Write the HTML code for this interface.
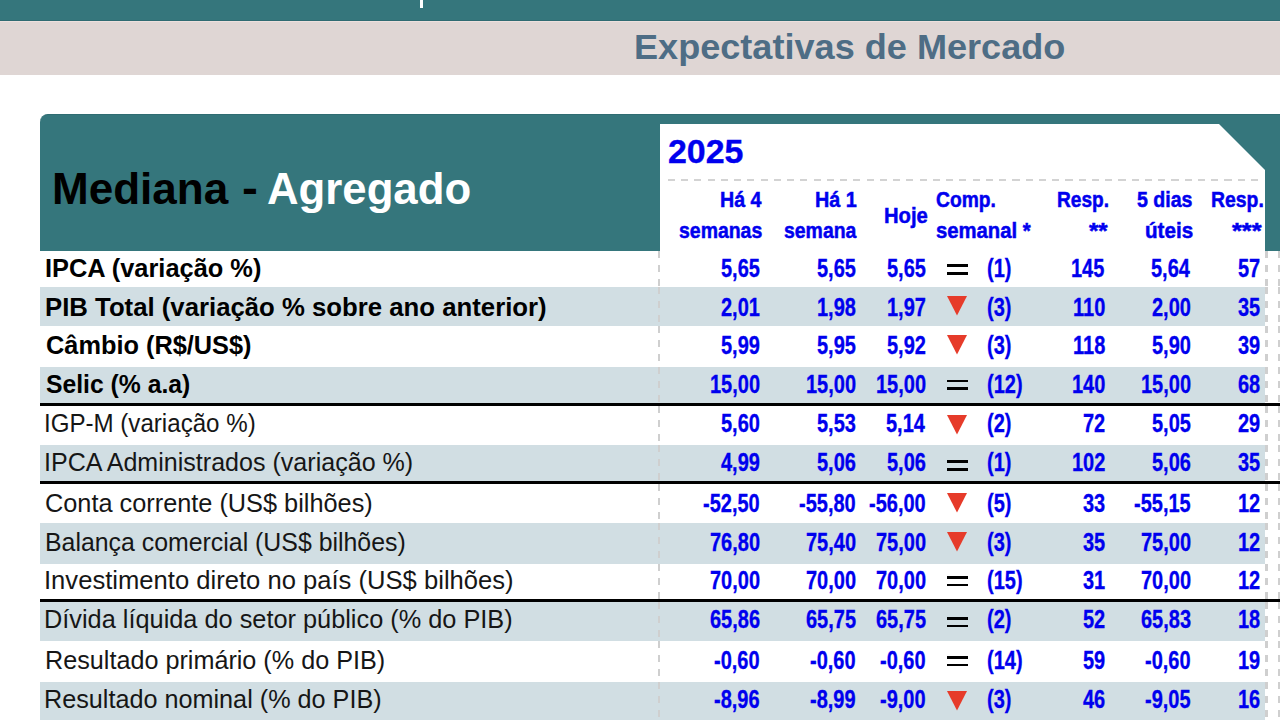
<!DOCTYPE html><html><head><meta charset="utf-8"><style>
html,body{margin:0;padding:0;width:1280px;height:720px;overflow:hidden;background:#fff;position:relative}
.t{position:absolute;white-space:nowrap;font-family:"Liberation Sans",sans-serif;line-height:1;transform-origin:0 0}
.b{position:absolute}
</style></head><body>
<div class="b" style="left:0;top:0;width:1280px;height:20px;background:#35767c"></div>
<div class="b" style="left:0;top:19.5px;width:1280px;height:1px;background:#2f6b72"></div>
<div class="b" style="left:0;top:20.5px;width:1280px;height:1.2px;background:#ede0dd"></div>
<div class="b" style="left:420px;top:0;width:3px;height:7.5px;background:#fff"></div>
<div class="b" style="left:0;top:21.7px;width:1280px;height:53px;background:#dfd6d4"></div>
<div class="b" style="left:40px;top:113.6px;width:1260px;height:137.4px;background:#35767c;border-top:0.8px solid #2f6c72;box-sizing:border-box;border-top-left-radius:8px"></div>
<svg class="b" style="left:660px;top:124px" width="605" height="127"><polygon points="0,0 559,0 605,46 605,127 0,127" fill="#fff"/></svg>
<div class="b" style="left:668px;top:178.5px;width:596px;height:2.5px;background:repeating-linear-gradient(90deg,#d3d3d3 0 7px,transparent 7px 13.25px)"></div>

<div class="b" style="left:40px;top:251px;width:1225.3px;height:36px;background:#fff"></div>
<div class="b" style="left:40px;top:287px;width:1225.3px;height:39px;background:#d1dee3"></div>
<div class="b" style="left:40px;top:326px;width:1225.3px;height:41px;background:#fff"></div>
<div class="b" style="left:40px;top:367px;width:1225.3px;height:36px;background:#d1dee3"></div>
<div class="b" style="left:40px;top:406px;width:1225.3px;height:39px;background:#fff"></div>
<div class="b" style="left:40px;top:445px;width:1225.3px;height:35.5px;background:#d1dee3"></div>
<div class="b" style="left:40px;top:483.5px;width:1225.3px;height:39.0px;background:#fff"></div>
<div class="b" style="left:40px;top:522.5px;width:1225.3px;height:41.5px;background:#d1dee3"></div>
<div class="b" style="left:40px;top:564px;width:1225.3px;height:35px;background:#fff"></div>
<div class="b" style="left:40px;top:602px;width:1225.3px;height:38.5px;background:#d1dee3"></div>
<div class="b" style="left:40px;top:640.5px;width:1225.3px;height:41.5px;background:#fff"></div>
<div class="b" style="left:40px;top:682px;width:1225.3px;height:38px;background:#d1dee3"></div>
<div class="b" style="left:40px;top:403px;width:1240px;height:3px;background:#000"></div>
<div class="b" style="left:40px;top:480.5px;width:1240px;height:3.0px;background:#000"></div>
<div class="b" style="left:40px;top:599px;width:1240px;height:3px;background:#000"></div>
<div class="b" style="left:657.6px;top:251px;width:2.5px;height:36px;background:repeating-linear-gradient(180deg,#cfcfcf 0 7.3px,transparent 7.3px 13.8px)"></div>
<div class="b" style="left:657.6px;top:287px;width:2.5px;height:39px;background:repeating-linear-gradient(180deg,#cfcfcf 0 7.3px,transparent 7.3px 13.8px)"></div>
<div class="b" style="left:657.6px;top:326px;width:2.5px;height:41px;background:repeating-linear-gradient(180deg,#cfcfcf 0 7.3px,transparent 7.3px 13.8px)"></div>
<div class="b" style="left:657.6px;top:367px;width:2.5px;height:36px;background:repeating-linear-gradient(180deg,#cfcfcf 0 7.3px,transparent 7.3px 13.8px)"></div>
<div class="b" style="left:657.6px;top:406px;width:2.5px;height:39px;background:repeating-linear-gradient(180deg,#cfcfcf 0 7.3px,transparent 7.3px 13.8px)"></div>
<div class="b" style="left:657.6px;top:445px;width:2.5px;height:35.5px;background:repeating-linear-gradient(180deg,#cfcfcf 0 7.3px,transparent 7.3px 13.8px)"></div>
<div class="b" style="left:657.6px;top:483.5px;width:2.5px;height:39.0px;background:repeating-linear-gradient(180deg,#cfcfcf 0 7.3px,transparent 7.3px 13.8px)"></div>
<div class="b" style="left:657.6px;top:522.5px;width:2.5px;height:41.5px;background:repeating-linear-gradient(180deg,#cfcfcf 0 7.3px,transparent 7.3px 13.8px)"></div>
<div class="b" style="left:657.6px;top:564px;width:2.5px;height:35px;background:repeating-linear-gradient(180deg,#cfcfcf 0 7.3px,transparent 7.3px 13.8px)"></div>
<div class="b" style="left:657.6px;top:602px;width:2.5px;height:38.5px;background:repeating-linear-gradient(180deg,#cfcfcf 0 7.3px,transparent 7.3px 13.8px)"></div>
<div class="b" style="left:657.6px;top:640.5px;width:2.5px;height:41.5px;background:repeating-linear-gradient(180deg,#cfcfcf 0 7.3px,transparent 7.3px 13.8px)"></div>
<div class="b" style="left:657.6px;top:682px;width:2.5px;height:38px;background:repeating-linear-gradient(180deg,#cfcfcf 0 7.3px,transparent 7.3px 13.8px)"></div>
<div class="b" style="left:1265.2px;top:251px;width:2.5px;height:36px;background:repeating-linear-gradient(180deg,#cfcfcf 0 7.3px,transparent 7.3px 13.8px)"></div>
<div class="b" style="left:1265.2px;top:287px;width:2.5px;height:39px;background:repeating-linear-gradient(180deg,#cfcfcf 0 7.3px,transparent 7.3px 13.8px)"></div>
<div class="b" style="left:1265.2px;top:326px;width:2.5px;height:41px;background:repeating-linear-gradient(180deg,#cfcfcf 0 7.3px,transparent 7.3px 13.8px)"></div>
<div class="b" style="left:1265.2px;top:367px;width:2.5px;height:36px;background:repeating-linear-gradient(180deg,#cfcfcf 0 7.3px,transparent 7.3px 13.8px)"></div>
<div class="b" style="left:1265.2px;top:406px;width:2.5px;height:39px;background:repeating-linear-gradient(180deg,#cfcfcf 0 7.3px,transparent 7.3px 13.8px)"></div>
<div class="b" style="left:1265.2px;top:445px;width:2.5px;height:35.5px;background:repeating-linear-gradient(180deg,#cfcfcf 0 7.3px,transparent 7.3px 13.8px)"></div>
<div class="b" style="left:1265.2px;top:483.5px;width:2.5px;height:39.0px;background:repeating-linear-gradient(180deg,#cfcfcf 0 7.3px,transparent 7.3px 13.8px)"></div>
<div class="b" style="left:1265.2px;top:522.5px;width:2.5px;height:41.5px;background:repeating-linear-gradient(180deg,#cfcfcf 0 7.3px,transparent 7.3px 13.8px)"></div>
<div class="b" style="left:1265.2px;top:564px;width:2.5px;height:35px;background:repeating-linear-gradient(180deg,#cfcfcf 0 7.3px,transparent 7.3px 13.8px)"></div>
<div class="b" style="left:1265.2px;top:602px;width:2.5px;height:38.5px;background:repeating-linear-gradient(180deg,#cfcfcf 0 7.3px,transparent 7.3px 13.8px)"></div>
<div class="b" style="left:1265.2px;top:640.5px;width:2.5px;height:41.5px;background:repeating-linear-gradient(180deg,#cfcfcf 0 7.3px,transparent 7.3px 13.8px)"></div>
<div class="b" style="left:1265.2px;top:682px;width:2.5px;height:38px;background:repeating-linear-gradient(180deg,#cfcfcf 0 7.3px,transparent 7.3px 13.8px)"></div>
<div class="b" style="left:1277.9px;top:251px;width:2.5px;height:36px;background:repeating-linear-gradient(180deg,#cfcfcf 0 7.3px,transparent 7.3px 13.8px)"></div>
<div class="b" style="left:1277.9px;top:287px;width:2.5px;height:39px;background:repeating-linear-gradient(180deg,#cfcfcf 0 7.3px,transparent 7.3px 13.8px)"></div>
<div class="b" style="left:1277.9px;top:326px;width:2.5px;height:41px;background:repeating-linear-gradient(180deg,#cfcfcf 0 7.3px,transparent 7.3px 13.8px)"></div>
<div class="b" style="left:1277.9px;top:367px;width:2.5px;height:36px;background:repeating-linear-gradient(180deg,#cfcfcf 0 7.3px,transparent 7.3px 13.8px)"></div>
<div class="b" style="left:1277.9px;top:406px;width:2.5px;height:39px;background:repeating-linear-gradient(180deg,#cfcfcf 0 7.3px,transparent 7.3px 13.8px)"></div>
<div class="b" style="left:1277.9px;top:445px;width:2.5px;height:35.5px;background:repeating-linear-gradient(180deg,#cfcfcf 0 7.3px,transparent 7.3px 13.8px)"></div>
<div class="b" style="left:1277.9px;top:483.5px;width:2.5px;height:39.0px;background:repeating-linear-gradient(180deg,#cfcfcf 0 7.3px,transparent 7.3px 13.8px)"></div>
<div class="b" style="left:1277.9px;top:522.5px;width:2.5px;height:41.5px;background:repeating-linear-gradient(180deg,#cfcfcf 0 7.3px,transparent 7.3px 13.8px)"></div>
<div class="b" style="left:1277.9px;top:564px;width:2.5px;height:35px;background:repeating-linear-gradient(180deg,#cfcfcf 0 7.3px,transparent 7.3px 13.8px)"></div>
<div class="b" style="left:1277.9px;top:602px;width:2.5px;height:38.5px;background:repeating-linear-gradient(180deg,#cfcfcf 0 7.3px,transparent 7.3px 13.8px)"></div>
<div class="b" style="left:1277.9px;top:640.5px;width:2.5px;height:41.5px;background:repeating-linear-gradient(180deg,#cfcfcf 0 7.3px,transparent 7.3px 13.8px)"></div>
<div class="b" style="left:1277.9px;top:682px;width:2.5px;height:38px;background:repeating-linear-gradient(180deg,#cfcfcf 0 7.3px,transparent 7.3px 13.8px)"></div>
<div class="b" style="left:947px;top:264px;width:21px;height:2.8px;background:#000"></div>
<div class="b" style="left:947px;top:271.8px;width:21px;height:2.8px;background:#000"></div>
<svg class="b" style="left:947px;top:296.1px" width="20" height="20"><polygon points="0,0 20,0 10,19.6" fill="#e63b2a"/></svg>
<svg class="b" style="left:947px;top:334.6px" width="20" height="20"><polygon points="0,0 20,0 10,19.6" fill="#e63b2a"/></svg>
<div class="b" style="left:947px;top:379.6px;width:21px;height:2.8px;background:#000"></div>
<div class="b" style="left:947px;top:387.40000000000003px;width:21px;height:2.8px;background:#000"></div>
<svg class="b" style="left:947px;top:415px" width="20" height="20"><polygon points="0,0 20,0 10,19.6" fill="#e63b2a"/></svg>
<div class="b" style="left:947px;top:460.2px;width:21px;height:2.8px;background:#000"></div>
<div class="b" style="left:947px;top:468.0px;width:21px;height:2.8px;background:#000"></div>
<svg class="b" style="left:947px;top:492.9px" width="20" height="20"><polygon points="0,0 20,0 10,19.6" fill="#e63b2a"/></svg>
<svg class="b" style="left:947px;top:531.7px" width="20" height="20"><polygon points="0,0 20,0 10,19.6" fill="#e63b2a"/></svg>
<div class="b" style="left:947px;top:575.8px;width:21px;height:2.8px;background:#000"></div>
<div class="b" style="left:947px;top:583.5999999999999px;width:21px;height:2.8px;background:#000"></div>
<div class="b" style="left:947px;top:616.9px;width:21px;height:2.8px;background:#000"></div>
<div class="b" style="left:947px;top:624.6999999999999px;width:21px;height:2.8px;background:#000"></div>
<div class="b" style="left:947px;top:655.9px;width:21px;height:2.8px;background:#000"></div>
<div class="b" style="left:947px;top:663.6999999999999px;width:21px;height:2.8px;background:#000"></div>
<svg class="b" style="left:947px;top:691px" width="20" height="20"><polygon points="0,0 20,0 10,19.6" fill="#e63b2a"/></svg>
<div class="t" id="t0" style="left:634.37px;top:30.00px;font-size:35.5px;font-weight:700;color:#4e6d85;transform:scaleX(1.0168);">Expectativas de Mercado</div>
<div class="t" id="t1" style="left:52.06px;top:166.20px;font-size:45px;font-weight:700;color:#000;transform:scaleX(0.9786);">Mediana</div>
<div class="t" id="t2" style="left:241.72px;top:164.60px;font-size:45px;font-weight:700;color:#000;transform:scaleX(1.0604);">-</div>
<div class="t" id="t3" style="left:266.93px;top:166.20px;font-size:45px;font-weight:700;color:#fff;transform:scaleX(0.9719);">Agregado</div>
<div class="t" id="t4" style="left:667.97px;top:135.00px;font-size:33px;font-weight:700;color:#0000ee;transform:scaleX(1.0269);-webkit-text-stroke:0.35px #0000ee;">2025</div>
<div class="t" id="t5" style="left:719.89px;top:188.70px;font-size:22px;font-weight:700;color:#0000ee;transform:scaleX(0.8929);-webkit-text-stroke:0.5px #0000ee;">Há 4</div>
<div class="t" id="t6" style="left:678.84px;top:220.10px;font-size:22px;font-weight:700;color:#0000ee;transform:scaleX(0.8840);-webkit-text-stroke:0.5px #0000ee;">semanas</div>
<div class="t" id="t7" style="left:815.35px;top:188.70px;font-size:22px;font-weight:700;color:#0000ee;transform:scaleX(0.9008);-webkit-text-stroke:0.5px #0000ee;">Há 1</div>
<div class="t" id="t8" style="left:784.25px;top:220.10px;font-size:22px;font-weight:700;color:#0000ee;transform:scaleX(0.8832);-webkit-text-stroke:0.5px #0000ee;">semana</div>
<div class="t" id="t9" style="left:884.14px;top:204.50px;font-size:22px;font-weight:700;color:#0000ee;transform:scaleX(0.9180);-webkit-text-stroke:0.5px #0000ee;">Hoje</div>
<div class="t" id="t10" style="left:935.72px;top:188.60px;font-size:22px;font-weight:700;color:#0000ee;transform:scaleX(0.8740);-webkit-text-stroke:0.5px #0000ee;">Comp.</div>
<div class="t" id="t11" style="left:935.60px;top:219.90px;font-size:22px;font-weight:700;color:#0000ee;transform:scaleX(0.9218);-webkit-text-stroke:0.5px #0000ee;">semanal *</div>
<div class="t" id="t12" style="left:1056.57px;top:188.70px;font-size:22px;font-weight:700;color:#0000ee;transform:scaleX(0.8673);-webkit-text-stroke:0.5px #0000ee;">Resp.</div>
<div class="t" id="t13" style="left:1088.70px;top:220.10px;font-size:22px;font-weight:700;color:#0000ee;transform:scaleX(1.0876);-webkit-text-stroke:0.5px #0000ee;">**</div>
<div class="t" id="t14" style="left:1137.28px;top:188.70px;font-size:22px;font-weight:700;color:#0000ee;transform:scaleX(0.8898);-webkit-text-stroke:0.5px #0000ee;">5 dias</div>
<div class="t" id="t15" style="left:1144.86px;top:220.10px;font-size:22px;font-weight:700;color:#0000ee;transform:scaleX(0.9379);-webkit-text-stroke:0.5px #0000ee;">úteis</div>
<div class="t" id="t16" style="left:1210.72px;top:188.70px;font-size:22px;font-weight:700;color:#0000ee;transform:scaleX(0.8807);-webkit-text-stroke:0.5px #0000ee;">Resp.</div>
<div class="t" id="t17" style="left:1232.44px;top:220.10px;font-size:22px;font-weight:700;color:#0000ee;transform:scaleX(1.1510);-webkit-text-stroke:0.5px #0000ee;">***</div>
<div class="t" id="t18" style="left:45.32px;top:254.70px;font-size:26px;font-weight:700;color:#000;transform:scaleX(0.9766);">IPCA (variação %)</div>
<div class="t" id="t19" style="left:720.98px;top:254.70px;font-size:26.3px;font-weight:700;color:#0000ee;transform:scaleX(0.7600);-webkit-text-stroke:0.35px #0000ee;">5,65</div>
<div class="t" id="t20" style="left:817.08px;top:254.70px;font-size:26.3px;font-weight:700;color:#0000ee;transform:scaleX(0.7600);-webkit-text-stroke:0.35px #0000ee;">5,65</div>
<div class="t" id="t21" style="left:887.46px;top:254.70px;font-size:26.3px;font-weight:700;color:#0000ee;transform:scaleX(0.7600);-webkit-text-stroke:0.35px #0000ee;">5,65</div>
<div class="t" id="t22" style="left:987.12px;top:254.70px;font-size:26.3px;font-weight:700;color:#0000ee;transform:scaleX(0.7600);-webkit-text-stroke:0.35px #0000ee;">(1)</div>
<div class="t" id="t23" style="left:1070.93px;top:254.70px;font-size:26.3px;font-weight:700;color:#0000ee;transform:scaleX(0.7600);-webkit-text-stroke:0.35px #0000ee;">145</div>
<div class="t" id="t24" style="left:1151.32px;top:254.70px;font-size:26.3px;font-weight:700;color:#0000ee;transform:scaleX(0.7600);-webkit-text-stroke:0.35px #0000ee;">5,64</div>
<div class="t" id="t25" style="left:1237.94px;top:254.70px;font-size:26.3px;font-weight:700;color:#0000ee;transform:scaleX(0.7600);-webkit-text-stroke:0.35px #0000ee;">57</div>
<div class="t" id="t26" style="left:45.31px;top:293.80px;font-size:26px;font-weight:700;color:#000;transform:scaleX(0.9901);">PIB Total (variação % sobre ano anterior)</div>
<div class="t" id="t27" style="left:720.98px;top:293.80px;font-size:26.3px;font-weight:700;color:#0000ee;transform:scaleX(0.7600);-webkit-text-stroke:0.35px #0000ee;">2,01</div>
<div class="t" id="t28" style="left:817.08px;top:293.80px;font-size:26.3px;font-weight:700;color:#0000ee;transform:scaleX(0.7600);-webkit-text-stroke:0.35px #0000ee;">1,98</div>
<div class="t" id="t29" style="left:887.46px;top:293.80px;font-size:26.3px;font-weight:700;color:#0000ee;transform:scaleX(0.7600);-webkit-text-stroke:0.35px #0000ee;">1,97</div>
<div class="t" id="t30" style="left:987.12px;top:293.80px;font-size:26.3px;font-weight:700;color:#0000ee;transform:scaleX(0.7600);-webkit-text-stroke:0.35px #0000ee;">(3)</div>
<div class="t" id="t31" style="left:1073.23px;top:293.80px;font-size:26.3px;font-weight:700;color:#0000ee;transform:scaleX(0.7600);-webkit-text-stroke:0.35px #0000ee;">110</div>
<div class="t" id="t32" style="left:1152.08px;top:293.80px;font-size:26.3px;font-weight:700;color:#0000ee;transform:scaleX(0.7600);-webkit-text-stroke:0.35px #0000ee;">2,00</div>
<div class="t" id="t33" style="left:1237.94px;top:293.80px;font-size:26.3px;font-weight:700;color:#0000ee;transform:scaleX(0.7600);-webkit-text-stroke:0.35px #0000ee;">35</div>
<div class="t" id="t34" style="left:46.10px;top:332.40px;font-size:26px;font-weight:700;color:#000;transform:scaleX(0.9745);">Câmbio (R$/US$)</div>
<div class="t" id="t35" style="left:720.98px;top:332.40px;font-size:26.3px;font-weight:700;color:#0000ee;transform:scaleX(0.7600);-webkit-text-stroke:0.35px #0000ee;">5,99</div>
<div class="t" id="t36" style="left:817.08px;top:332.40px;font-size:26.3px;font-weight:700;color:#0000ee;transform:scaleX(0.7600);-webkit-text-stroke:0.35px #0000ee;">5,95</div>
<div class="t" id="t37" style="left:887.46px;top:332.40px;font-size:26.3px;font-weight:700;color:#0000ee;transform:scaleX(0.7600);-webkit-text-stroke:0.35px #0000ee;">5,92</div>
<div class="t" id="t38" style="left:987.12px;top:332.40px;font-size:26.3px;font-weight:700;color:#0000ee;transform:scaleX(0.7600);-webkit-text-stroke:0.35px #0000ee;">(3)</div>
<div class="t" id="t39" style="left:1073.23px;top:332.40px;font-size:26.3px;font-weight:700;color:#0000ee;transform:scaleX(0.7600);-webkit-text-stroke:0.35px #0000ee;">118</div>
<div class="t" id="t40" style="left:1152.08px;top:332.40px;font-size:26.3px;font-weight:700;color:#0000ee;transform:scaleX(0.7600);-webkit-text-stroke:0.35px #0000ee;">5,90</div>
<div class="t" id="t41" style="left:1237.94px;top:332.40px;font-size:26.3px;font-weight:700;color:#0000ee;transform:scaleX(0.7600);-webkit-text-stroke:0.35px #0000ee;">39</div>
<div class="t" id="t42" style="left:46.30px;top:371.10px;font-size:26px;font-weight:700;color:#000;transform:scaleX(0.9512);">Selic (% a.a)</div>
<div class="t" id="t43" style="left:710.46px;top:371.10px;font-size:26.3px;font-weight:700;color:#0000ee;transform:scaleX(0.7600);-webkit-text-stroke:0.35px #0000ee;">15,00</div>
<div class="t" id="t44" style="left:805.96px;top:371.10px;font-size:26.3px;font-weight:700;color:#0000ee;transform:scaleX(0.7600);-webkit-text-stroke:0.35px #0000ee;">15,00</div>
<div class="t" id="t45" style="left:876.34px;top:371.10px;font-size:26.3px;font-weight:700;color:#0000ee;transform:scaleX(0.7600);-webkit-text-stroke:0.35px #0000ee;">15,00</div>
<div class="t" id="t46" style="left:987.12px;top:371.10px;font-size:26.3px;font-weight:700;color:#0000ee;transform:scaleX(0.7600);-webkit-text-stroke:0.35px #0000ee;">(12)</div>
<div class="t" id="t47" style="left:1072.13px;top:371.10px;font-size:26.3px;font-weight:700;color:#0000ee;transform:scaleX(0.7600);-webkit-text-stroke:0.35px #0000ee;">140</div>
<div class="t" id="t48" style="left:1140.96px;top:371.10px;font-size:26.3px;font-weight:700;color:#0000ee;transform:scaleX(0.7600);-webkit-text-stroke:0.35px #0000ee;">15,00</div>
<div class="t" id="t49" style="left:1237.94px;top:371.10px;font-size:26.3px;font-weight:700;color:#0000ee;transform:scaleX(0.7600);-webkit-text-stroke:0.35px #0000ee;">68</div>
<div class="t" id="t50" style="left:44.45px;top:410.00px;font-size:26px;font-weight:400;color:#161616;transform:scaleX(0.9273);">IGP-M (variação %)</div>
<div class="t" id="t51" style="left:720.98px;top:410.00px;font-size:26.3px;font-weight:700;color:#0000ee;transform:scaleX(0.7600);-webkit-text-stroke:0.35px #0000ee;">5,60</div>
<div class="t" id="t52" style="left:817.08px;top:410.00px;font-size:26.3px;font-weight:700;color:#0000ee;transform:scaleX(0.7600);-webkit-text-stroke:0.35px #0000ee;">5,53</div>
<div class="t" id="t53" style="left:886.28px;top:410.00px;font-size:26.3px;font-weight:700;color:#0000ee;transform:scaleX(0.7600);-webkit-text-stroke:0.35px #0000ee;">5,14</div>
<div class="t" id="t54" style="left:987.12px;top:410.00px;font-size:26.3px;font-weight:700;color:#0000ee;transform:scaleX(0.7600);-webkit-text-stroke:0.35px #0000ee;">(2)</div>
<div class="t" id="t55" style="left:1083.24px;top:410.00px;font-size:26.3px;font-weight:700;color:#0000ee;transform:scaleX(0.7600);-webkit-text-stroke:0.35px #0000ee;">72</div>
<div class="t" id="t56" style="left:1152.08px;top:410.00px;font-size:26.3px;font-weight:700;color:#0000ee;transform:scaleX(0.7600);-webkit-text-stroke:0.35px #0000ee;">5,05</div>
<div class="t" id="t57" style="left:1237.94px;top:410.00px;font-size:26.3px;font-weight:700;color:#0000ee;transform:scaleX(0.7600);-webkit-text-stroke:0.35px #0000ee;">29</div>
<div class="t" id="t58" style="left:44.13px;top:449.00px;font-size:26px;font-weight:400;color:#161616;transform:scaleX(0.9641);">IPCA Administrados (variação %)</div>
<div class="t" id="t59" style="left:720.98px;top:449.00px;font-size:26.3px;font-weight:700;color:#0000ee;transform:scaleX(0.7600);-webkit-text-stroke:0.35px #0000ee;">4,99</div>
<div class="t" id="t60" style="left:817.08px;top:449.00px;font-size:26.3px;font-weight:700;color:#0000ee;transform:scaleX(0.7600);-webkit-text-stroke:0.35px #0000ee;">5,06</div>
<div class="t" id="t61" style="left:887.46px;top:449.00px;font-size:26.3px;font-weight:700;color:#0000ee;transform:scaleX(0.7600);-webkit-text-stroke:0.35px #0000ee;">5,06</div>
<div class="t" id="t62" style="left:987.12px;top:449.00px;font-size:26.3px;font-weight:700;color:#0000ee;transform:scaleX(0.7600);-webkit-text-stroke:0.35px #0000ee;">(1)</div>
<div class="t" id="t63" style="left:1072.13px;top:449.00px;font-size:26.3px;font-weight:700;color:#0000ee;transform:scaleX(0.7600);-webkit-text-stroke:0.35px #0000ee;">102</div>
<div class="t" id="t64" style="left:1152.08px;top:449.00px;font-size:26.3px;font-weight:700;color:#0000ee;transform:scaleX(0.7600);-webkit-text-stroke:0.35px #0000ee;">5,06</div>
<div class="t" id="t65" style="left:1237.94px;top:449.00px;font-size:26.3px;font-weight:700;color:#0000ee;transform:scaleX(0.7600);-webkit-text-stroke:0.35px #0000ee;">35</div>
<div class="t" id="t66" style="left:45.33px;top:490.30px;font-size:26px;font-weight:400;color:#161616;transform:scaleX(0.9733);">Conta corrente (US$ bilhões)</div>
<div class="t" id="t67" style="left:703.21px;top:490.30px;font-size:26.3px;font-weight:700;color:#0000ee;transform:scaleX(0.7600);-webkit-text-stroke:0.35px #0000ee;">-52,50</div>
<div class="t" id="t68" style="left:799.31px;top:490.30px;font-size:26.3px;font-weight:700;color:#0000ee;transform:scaleX(0.7600);-webkit-text-stroke:0.35px #0000ee;">-55,80</div>
<div class="t" id="t69" style="left:869.27px;top:490.30px;font-size:26.3px;font-weight:700;color:#0000ee;transform:scaleX(0.7600);-webkit-text-stroke:0.35px #0000ee;">-56,00</div>
<div class="t" id="t70" style="left:987.12px;top:490.30px;font-size:26.3px;font-weight:700;color:#0000ee;transform:scaleX(0.7600);-webkit-text-stroke:0.35px #0000ee;">(5)</div>
<div class="t" id="t71" style="left:1083.24px;top:490.30px;font-size:26.3px;font-weight:700;color:#0000ee;transform:scaleX(0.7600);-webkit-text-stroke:0.35px #0000ee;">33</div>
<div class="t" id="t72" style="left:1134.31px;top:490.30px;font-size:26.3px;font-weight:700;color:#0000ee;transform:scaleX(0.7600);-webkit-text-stroke:0.35px #0000ee;">-55,15</div>
<div class="t" id="t73" style="left:1237.94px;top:490.30px;font-size:26.3px;font-weight:700;color:#0000ee;transform:scaleX(0.7600);-webkit-text-stroke:0.35px #0000ee;">12</div>
<div class="t" id="t74" style="left:45.17px;top:528.60px;font-size:26px;font-weight:400;color:#161616;transform:scaleX(0.9564);">Balança comercial (US$ bilhões)</div>
<div class="t" id="t75" style="left:710.46px;top:528.60px;font-size:26.3px;font-weight:700;color:#0000ee;transform:scaleX(0.7600);-webkit-text-stroke:0.35px #0000ee;">76,80</div>
<div class="t" id="t76" style="left:805.96px;top:528.60px;font-size:26.3px;font-weight:700;color:#0000ee;transform:scaleX(0.7600);-webkit-text-stroke:0.35px #0000ee;">75,40</div>
<div class="t" id="t77" style="left:876.34px;top:528.60px;font-size:26.3px;font-weight:700;color:#0000ee;transform:scaleX(0.7600);-webkit-text-stroke:0.35px #0000ee;">75,00</div>
<div class="t" id="t78" style="left:987.12px;top:528.60px;font-size:26.3px;font-weight:700;color:#0000ee;transform:scaleX(0.7600);-webkit-text-stroke:0.35px #0000ee;">(3)</div>
<div class="t" id="t79" style="left:1083.24px;top:528.60px;font-size:26.3px;font-weight:700;color:#0000ee;transform:scaleX(0.7600);-webkit-text-stroke:0.35px #0000ee;">35</div>
<div class="t" id="t80" style="left:1140.96px;top:528.60px;font-size:26.3px;font-weight:700;color:#0000ee;transform:scaleX(0.7600);-webkit-text-stroke:0.35px #0000ee;">75,00</div>
<div class="t" id="t81" style="left:1237.94px;top:528.60px;font-size:26.3px;font-weight:700;color:#0000ee;transform:scaleX(0.7600);-webkit-text-stroke:0.35px #0000ee;">12</div>
<div class="t" id="t82" style="left:44.33px;top:566.75px;font-size:26px;font-weight:400;color:#161616;transform:scaleX(0.9847);">Investimento direto no país (US$ bilhões)</div>
<div class="t" id="t83" style="left:710.46px;top:566.75px;font-size:26.3px;font-weight:700;color:#0000ee;transform:scaleX(0.7600);-webkit-text-stroke:0.35px #0000ee;">70,00</div>
<div class="t" id="t84" style="left:805.96px;top:566.75px;font-size:26.3px;font-weight:700;color:#0000ee;transform:scaleX(0.7600);-webkit-text-stroke:0.35px #0000ee;">70,00</div>
<div class="t" id="t85" style="left:876.34px;top:566.75px;font-size:26.3px;font-weight:700;color:#0000ee;transform:scaleX(0.7600);-webkit-text-stroke:0.35px #0000ee;">70,00</div>
<div class="t" id="t86" style="left:987.12px;top:566.75px;font-size:26.3px;font-weight:700;color:#0000ee;transform:scaleX(0.7600);-webkit-text-stroke:0.35px #0000ee;">(15)</div>
<div class="t" id="t87" style="left:1083.24px;top:566.75px;font-size:26.3px;font-weight:700;color:#0000ee;transform:scaleX(0.7600);-webkit-text-stroke:0.35px #0000ee;">31</div>
<div class="t" id="t88" style="left:1140.96px;top:566.75px;font-size:26.3px;font-weight:700;color:#0000ee;transform:scaleX(0.7600);-webkit-text-stroke:0.35px #0000ee;">70,00</div>
<div class="t" id="t89" style="left:1237.94px;top:566.75px;font-size:26.3px;font-weight:700;color:#0000ee;transform:scaleX(0.7600);-webkit-text-stroke:0.35px #0000ee;">12</div>
<div class="t" id="t90" style="left:44.35px;top:605.50px;font-size:26px;font-weight:400;color:#161616;transform:scaleX(0.9739);">Dívida líquida do setor público (% do PIB)</div>
<div class="t" id="t91" style="left:710.46px;top:605.50px;font-size:26.3px;font-weight:700;color:#0000ee;transform:scaleX(0.7600);-webkit-text-stroke:0.35px #0000ee;">65,86</div>
<div class="t" id="t92" style="left:805.96px;top:605.50px;font-size:26.3px;font-weight:700;color:#0000ee;transform:scaleX(0.7600);-webkit-text-stroke:0.35px #0000ee;">65,75</div>
<div class="t" id="t93" style="left:876.34px;top:605.50px;font-size:26.3px;font-weight:700;color:#0000ee;transform:scaleX(0.7600);-webkit-text-stroke:0.35px #0000ee;">65,75</div>
<div class="t" id="t94" style="left:987.12px;top:605.50px;font-size:26.3px;font-weight:700;color:#0000ee;transform:scaleX(0.7600);-webkit-text-stroke:0.35px #0000ee;">(2)</div>
<div class="t" id="t95" style="left:1083.24px;top:605.50px;font-size:26.3px;font-weight:700;color:#0000ee;transform:scaleX(0.7600);-webkit-text-stroke:0.35px #0000ee;">52</div>
<div class="t" id="t96" style="left:1140.96px;top:605.50px;font-size:26.3px;font-weight:700;color:#0000ee;transform:scaleX(0.7600);-webkit-text-stroke:0.35px #0000ee;">65,83</div>
<div class="t" id="t97" style="left:1237.94px;top:605.50px;font-size:26.3px;font-weight:700;color:#0000ee;transform:scaleX(0.7600);-webkit-text-stroke:0.35px #0000ee;">18</div>
<div class="t" id="t98" style="left:45.14px;top:647.00px;font-size:26px;font-weight:400;color:#161616;transform:scaleX(0.9687);">Resultado primário (% do PIB)</div>
<div class="t" id="t99" style="left:714.32px;top:647.00px;font-size:26.3px;font-weight:700;color:#0000ee;transform:scaleX(0.7600);-webkit-text-stroke:0.35px #0000ee;">-0,60</div>
<div class="t" id="t100" style="left:810.42px;top:647.00px;font-size:26.3px;font-weight:700;color:#0000ee;transform:scaleX(0.7600);-webkit-text-stroke:0.35px #0000ee;">-0,60</div>
<div class="t" id="t101" style="left:880.38px;top:647.00px;font-size:26.3px;font-weight:700;color:#0000ee;transform:scaleX(0.7600);-webkit-text-stroke:0.35px #0000ee;">-0,60</div>
<div class="t" id="t102" style="left:987.12px;top:647.00px;font-size:26.3px;font-weight:700;color:#0000ee;transform:scaleX(0.7600);-webkit-text-stroke:0.35px #0000ee;">(14)</div>
<div class="t" id="t103" style="left:1083.24px;top:647.00px;font-size:26.3px;font-weight:700;color:#0000ee;transform:scaleX(0.7600);-webkit-text-stroke:0.35px #0000ee;">59</div>
<div class="t" id="t104" style="left:1145.42px;top:647.00px;font-size:26.3px;font-weight:700;color:#0000ee;transform:scaleX(0.7600);-webkit-text-stroke:0.35px #0000ee;">-0,60</div>
<div class="t" id="t105" style="left:1237.94px;top:647.00px;font-size:26.3px;font-weight:700;color:#0000ee;transform:scaleX(0.7600);-webkit-text-stroke:0.35px #0000ee;">19</div>
<div class="t" id="t106" style="left:44.36px;top:685.50px;font-size:26px;font-weight:400;color:#161616;transform:scaleX(0.9693);">Resultado nominal (% do PIB)</div>
<div class="t" id="t107" style="left:714.32px;top:685.50px;font-size:26.3px;font-weight:700;color:#0000ee;transform:scaleX(0.7600);-webkit-text-stroke:0.35px #0000ee;">-8,96</div>
<div class="t" id="t108" style="left:810.42px;top:685.50px;font-size:26.3px;font-weight:700;color:#0000ee;transform:scaleX(0.7600);-webkit-text-stroke:0.35px #0000ee;">-8,99</div>
<div class="t" id="t109" style="left:880.38px;top:685.50px;font-size:26.3px;font-weight:700;color:#0000ee;transform:scaleX(0.7600);-webkit-text-stroke:0.35px #0000ee;">-9,00</div>
<div class="t" id="t110" style="left:987.12px;top:685.50px;font-size:26.3px;font-weight:700;color:#0000ee;transform:scaleX(0.7600);-webkit-text-stroke:0.35px #0000ee;">(3)</div>
<div class="t" id="t111" style="left:1083.24px;top:685.50px;font-size:26.3px;font-weight:700;color:#0000ee;transform:scaleX(0.7600);-webkit-text-stroke:0.35px #0000ee;">46</div>
<div class="t" id="t112" style="left:1145.42px;top:685.50px;font-size:26.3px;font-weight:700;color:#0000ee;transform:scaleX(0.7600);-webkit-text-stroke:0.35px #0000ee;">-9,05</div>
<div class="t" id="t113" style="left:1237.94px;top:685.50px;font-size:26.3px;font-weight:700;color:#0000ee;transform:scaleX(0.7600);-webkit-text-stroke:0.35px #0000ee;">16</div>
</body></html>
